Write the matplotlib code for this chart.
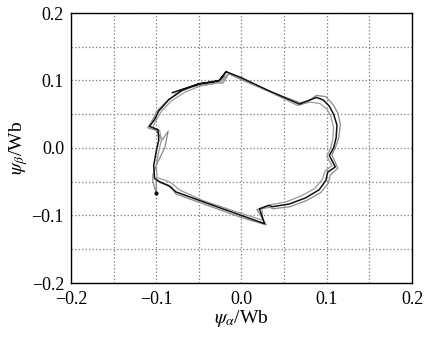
import numpy as np
import matplotlib
matplotlib.use('Agg')
import matplotlib.pyplot as plt

plt.rcParams['font.family'] = ['Liberation Serif', 'DejaVu Serif']
plt.rcParams['mathtext.fontset'] = 'stix'
plt.rcParams['axes.unicode_minus'] = True

# flux trajectory traces (psi_alpha, psi_beta)
# trace 1 - dark
psi_a1 = [-0.081, -0.050, -0.034, -0.026, -0.018, 0.000, 0.030, 0.068, 0.078, 0.088,
          0.096, 0.103, 0.108, 0.112, 0.111, 0.108, 0.103, 0.110, 0.101, 0.099,
          0.091, 0.075, 0.056, 0.036, 0.032, 0.021, 0.027, 0.000, -0.040, -0.077,
          -0.085, -0.096, -0.102, -0.103, -0.100, -0.097, -0.098, -0.108, -0.102, -0.097,
          -0.085, -0.069, -0.050, -0.034, -0.026, -0.018]
psi_b1 = [0.082, 0.095, 0.098, 0.100, 0.113, 0.104, 0.086, 0.065, 0.070, 0.075,
          0.071, 0.062, 0.050, 0.034, 0.015, 0.000, -0.011, -0.028, -0.036, -0.048,
          -0.062, -0.074, -0.083, -0.087, -0.085, -0.090, -0.112, -0.100, -0.082, -0.065,
          -0.056, -0.050, -0.045, -0.026, -0.005, 0.012, 0.027, 0.032, 0.042, 0.055,
          0.072, 0.086, 0.095, 0.098, 0.100, 0.113]

# trace 2 - grey, slightly outside
psi_a2 = [-0.100, -0.100, -0.094, -0.082, -0.077, -0.040, 0.000, 0.029, 0.018, 0.033,
          0.037, 0.057, 0.076, 0.093, 0.102, 0.104, 0.113, 0.106, 0.110, 0.114,
          0.116, 0.113, 0.107, 0.099, 0.088, 0.079, 0.069, 0.030, 0.000, -0.015,
          -0.022, -0.028, -0.038, -0.052, -0.070, -0.087, -0.099, -0.104, -0.110, -0.100,
          -0.093, -0.086, -0.090, -0.098, -0.104, -0.104, -0.100]
psi_b2 = [-0.067, -0.048, -0.052, -0.058, -0.068, -0.085, -0.103, -0.114, -0.091, -0.088,
          -0.090, -0.087, -0.078, -0.066, -0.052, -0.040, -0.030, -0.010, 0.000, 0.015,
          0.034, 0.052, 0.065, 0.076, 0.078, 0.070, 0.067, 0.085, 0.101, 0.110,
          0.096, 0.097, 0.096, 0.093, 0.085, 0.070, 0.055, 0.042, 0.030, 0.026,
          0.012, 0.025, 0.000, -0.020, -0.040, -0.050, -0.067]

# trace 3 - grey, slightly inside
psi_a3 = [-0.078, -0.060, -0.040, -0.025, -0.015, 0.005, 0.035, 0.066, 0.080, 0.092,
          0.100, 0.105, 0.108, 0.107, 0.104, 0.100, 0.106, 0.098, 0.095, 0.086,
          0.070, 0.052, 0.034, 0.024, 0.025, -0.005, -0.045, -0.073, -0.082, -0.091,
          -0.099, -0.100, -0.097, -0.094, -0.096, -0.104, -0.099, -0.093, -0.082, -0.066,
          -0.048, -0.030, -0.015]
psi_b3 = [0.080, 0.090, 0.094, 0.097, 0.110, 0.100, 0.082, 0.063, 0.068, 0.066,
          0.058, 0.046, 0.030, 0.012, -0.002, -0.012, -0.026, -0.034, -0.046, -0.060,
          -0.071, -0.080, -0.084, -0.089, -0.107, -0.095, -0.078, -0.062, -0.052, -0.047,
          -0.044, -0.025, -0.005, 0.012, 0.026, 0.031, 0.044, 0.056, 0.070, 0.083,
          0.092, 0.096, 0.110]

ticks = [-0.2, -0.1, 0.0, 0.1, 0.2]
tick_labels = ['\u22120.2', '\u22120.1', '0.0', '0.1', '0.2']
grid_minor = [-0.15, -0.05, 0.05, 0.15]

fig = plt.figure(figsize=(4.24, 3.38), dpi=100)
ax = fig.add_axes([71/424, 1-283/338, 341/424, 270/338])

ax.plot(psi_a2, psi_b2, color='#8a8a8a', lw=0.9)
ax.plot(psi_a3, psi_b3, color='#9a9a9a', lw=0.9)
ax.plot(psi_a1, psi_b1, color='#111111', lw=1.1)
ax.plot([psi_a2[0]], [psi_b2[0]], 'o', color='#111111', ms=2)

ax.set_xlim(-0.2, 0.2)
ax.set_ylim(-0.2, 0.2)
ax.set_xticks(ticks)
ax.set_yticks(ticks)
ax.set_xticks(grid_minor, minor=True)
ax.set_yticks(grid_minor, minor=True)
ax.set_xticklabels(tick_labels)
ax.set_yticklabels(tick_labels)
ax.grid(True, which='both', color='#8c8c8c', linestyle=(0, (1.2, 1.6)), lw=0.9)
ax.tick_params(which='both', length=0, labelsize=13)
ax.tick_params(axis='x', pad=6)
ax.tick_params(axis='y', pad=5)
for s in ax.spines.values():
    s.set_linewidth(1.0)

ax.set_xlabel(r'$\psi_\alpha$/Wb', fontsize=14, labelpad=0)
ax.set_ylabel(r'$\psi_\beta$/Wb', fontsize=14, labelpad=1)

fig.savefig('out.png', dpi=100)
